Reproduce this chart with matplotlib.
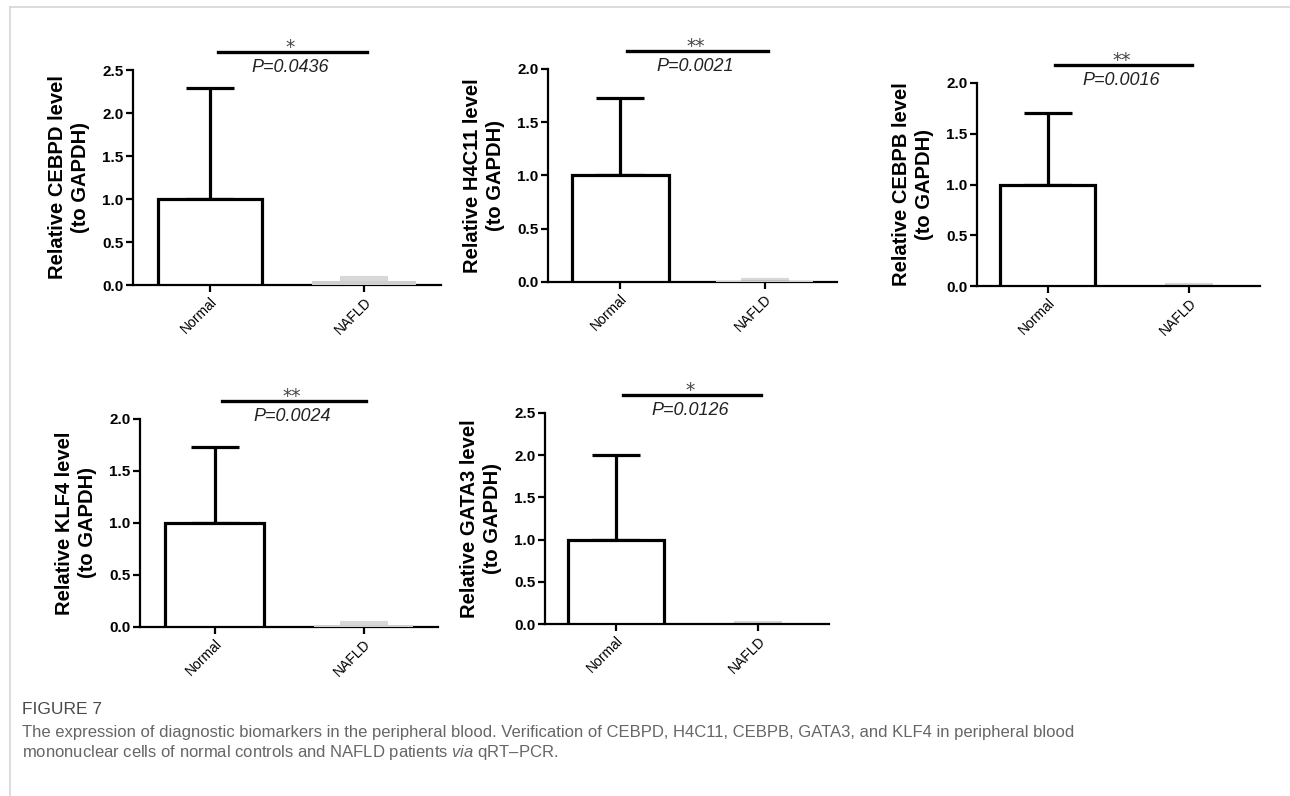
import matplotlib
matplotlib.use("Agg")
import matplotlib.pyplot as plt
from matplotlib.lines import Line2D
import matplotlib.transforms as mtransforms

plt.rcParams["mathtext.fontset"] = "custom"
plt.rcParams["mathtext.rm"] = "Liberation Sans"
plt.rcParams["mathtext.it"] = "Liberation Sans:italic"

W, H = 1290, 796

genes = ["CEBPD", "H4C11", "CEBPB", "KLF4", "GATA3"]
groups = ["Normal", "NAFLD"]
normal_mean = [1.0, 1.0, 1.0, 1.0, 1.0]
normal_err = [1.29, 0.73, 0.70, 0.73, 1.0]
nafld_mean = [0.05, 0.01, 0.004, 0.02, 0.005]
nafld_err = [0.03, 0.01, 0.002, 0.015, 0.003]
ymax = [2.5, 2.0, 2.0, 2.0, 2.5]
stars = ["*", "**", "**", "**", "*"]
pvals = ["P=0.0436", "P=0.0021", "P=0.0016", "P=0.0024", "P=0.0126"]

# axes boxes in pixels: left, right, bottom(y0), top(ymax)
boxes = [(133, 441, 285, 70), (548, 837, 282, 69), (977, 1260, 286, 83),
         (140, 438, 627, 419), (545, 829, 624, 413)]

fig = plt.figure(figsize=(W / 100, H / 100), dpi=100)
fig.patch.set_facecolor("white")

bold = dict(family="Liberation Sans", weight="bold")

for i, g in enumerate(genes):
    l, r, b, t = boxes[i]
    ax = fig.add_axes([l / W, 1 - b / H, (r - l) / W, (b - t) / H])
    x = [0, 1]
    ax.bar([0], [normal_mean[i]], width=0.67, color="white", edgecolor="black",
           linewidth=2.3, zorder=3)
    ax.errorbar([0], [normal_mean[i]], yerr=[[0], [normal_err[i]]], fmt="none",
                ecolor="black", elinewidth=2.3, capsize=17, capthick=2.3, zorder=2)
    ax.bar([1], [nafld_mean[i]], width=0.67, color="#cfcfcf", edgecolor="none",
           linewidth=0, zorder=3)
    ax.errorbar([1], [nafld_mean[i]], yerr=[[0], [nafld_err[i]]], fmt="none",
                ecolor="#d8d8d8", elinewidth=2, capsize=17, capthick=3, zorder=2)
    ax.set_xlim(-0.5, 1.5)
    ax.set_ylim(0, ymax[i])
    n = int(round(ymax[i] / 0.5)) + 1
    ax.set_yticks([k * 0.5 for k in range(n)])
    ax.set_yticklabels([f"{k * 0.5:.1f}" for k in range(n)], fontsize=11, **bold)
    ax.set_xticks(x)
    ax.set_xticklabels(groups, rotation=45, ha="right", rotation_mode="anchor",
                       fontsize=10, family="Liberation Sans")
    ax.spines["top"].set_visible(False)
    ax.spines["right"].set_visible(False)
    ax.spines["left"].set_linewidth(1.6)
    ax.spines["bottom"].set_linewidth(1.6)
    ax.tick_params(axis="both", direction="out", length=5, width=1.6, pad=2)
    ax.set_ylabel(f"Relative {g} level\n(to GAPDH)", fontsize=14.5, labelpad=9,
                  linespacing=1.25, **bold)
    trans = mtransforms.blended_transform_factory(ax.transData, ax.transAxes)
    hpx = b - t
    yline = 1 + 18 / hpx
    ax.plot([0.05, 1.02], [yline, yline], color="black", lw=2.4,
            transform=trans, clip_on=False)
    ax.text(0.52, yline - 5 / hpx, stars[i], transform=trans, ha="center",
            va="bottom", fontsize=13.5, color="#444444", family="DejaVu Sans")
    ax.text(0.52, yline - 7 / hpx, pvals[i], transform=trans, ha="center",
            va="top", fontsize=13, style="italic", family="Liberation Sans",
            color="#222222")

# frame lines
fig.add_artist(Line2D([10 / W, 1], [1 - 7 / H, 1 - 7 / H], color="#d5d5d5",
                      lw=1.2, transform=fig.transFigure))
fig.add_artist(Line2D([10 / W, 10 / W], [1 - 7 / H, 0], color="#d5d5d5",
                      lw=1.2, transform=fig.transFigure))

cap_family = ["Liberation Sans Narrow", "Liberation Sans", "DejaVu Sans"]
fig.text(22 / W, 1 - 709 / H, "FIGURE 7", fontsize=12.5, color="#4a4a4a",
         va="center", ha="left", family=cap_family)
fig.text(22 / W, 1 - 732 / H,
         "The expression of diagnostic biomarkers in the peripheral blood. Verification of CEBPD, H4C11, CEBPB, GATA3, and KLF4 in peripheral blood",
         fontsize=12, color="#666666", va="center", ha="left", family=cap_family)
fig.text(22 / W, 1 - 753 / H,
         r"mononuclear cells of normal controls and NAFLD patients $\it{via}$ qRT–PCR.",
         fontsize=12, color="#666666", va="center", ha="left", family=cap_family)

fig.savefig("out.png", dpi=100, facecolor="white")
